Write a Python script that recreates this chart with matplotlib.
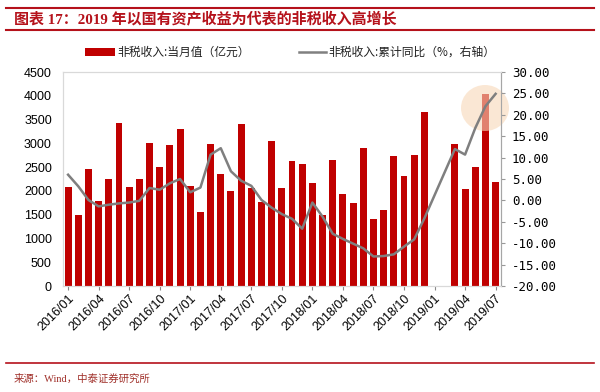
import matplotlib
matplotlib.use("Agg")
import matplotlib.pyplot as plt
import numpy as np
from matplotlib.lines import Line2D
from matplotlib.patches import Ellipse

months = [f"{y}/{m:02d}" for y in range(2016, 2020) for m in range(1, 13)][:43]

monthly = [2092, 1495, 2457, 1783, 2240, 3419, 2085, 2253, 3005, 2499, 2970, 3300,
           2113, 1565, 2984, 2359, 2001, 3398, 2057, 1776, 3054, 2071, 2635, 2570,
           2176, 1495, 2640, 1931, 1748, 2892, 1411, 1601, 2731, 2303, 2759, 3650,
           np.nan, np.nan, 2990, 2043, 2499, 4036, 2190]

yoy = [6.0, 3.3, 0.1, -1.4, -1.0, -0.7, -0.5, -0.1, 2.9, 2.5, 4.0, 5.0,
       1.9, 3.0, 10.7, 12.2, 6.8, 4.6, 3.4, 0.1, -1.7, -3.2, -4.3, -6.6,
       -0.5, -3.8, -7.8, -9.0, -10.1, -11.2, -13.1, -13.0, -12.6, -10.8, -9.1, -4.2,
       np.nan, np.nan, 12.0, 10.7, 16.9, 22.0, 24.9]

tick_labels = months[::3]

RED = "#c00000"
TITLE_RED = "#b5121b"

fig = plt.figure(figsize=(6.0, 3.92), dpi=100)
ax = fig.add_axes([0.105, 0.2704, 0.7295, 0.5459])
ax2 = ax.twinx()

x = np.arange(len(months))
ax.bar(x, monthly, width=0.68, color=RED, zorder=2)
ax.set_xlim(-0.5, len(months) - 0.5)
ax.set_ylim(0, 4500)
ax.set_yticks(np.arange(0, 4501, 500))
ax.set_xticks(x[::3])
ax.set_xticklabels(tick_labels, rotation=45, ha="right", rotation_mode="anchor",
                   fontsize=9, family="Liberation Sans")
for lab in ax.get_yticklabels():
    lab.set_family("Liberation Sans")
    lab.set_fontsize(9)
ax.tick_params(axis="y", length=0, pad=8)
ax.tick_params(axis="x", length=3, color="#888888", pad=2)

yy = np.array(yoy)
mask = ~np.isnan(yy)
ax2.plot(x[mask], yy[mask], color="#7f7f7f", lw=1.8, zorder=5)
ax2.set_ylim(-20, 30)
ax2.set_yticks(np.arange(-20, 31, 5))
ax2.set_yticklabels([f"{v:.2f}" for v in np.arange(-20, 31, 5)],
                    fontsize=9, family="DejaVu Sans Mono")
ax2.tick_params(axis="y", length=3, color="#999999", pad=5)

for a in (ax, ax2):
    for s in ("left", "top", "bottom"):
        a.spines[s].set_color("#d9d9d9")
    a.spines["right"].set_color("#a6a6a6")

# highlight circle
circ = Ellipse((485 / 600, 1 - 108 / 392), 48 / 600, 46 / 392, transform=fig.transFigure,
               facecolor="#f8d8b8", alpha=0.6, edgecolor="none", zorder=4, clip_on=False)
ax.add_patch(circ)

# title and rules
fig.add_artist(Line2D([0.01, 0.99], [1 - 8 / 392, 1 - 8 / 392], color=TITLE_RED, lw=1.5))
fig.add_artist(Line2D([0.01, 0.99], [1 - 29.5 / 392, 1 - 29.5 / 392], color=TITLE_RED, lw=1.5))
fig.text(14 / 600, 1 - 18.5 / 392, "图表 17：2019 年以国有资产收益为代表的非税收入高增长",
         fontsize=10.8, fontweight="bold", color=TITLE_RED, va="center", ha="left",
         family=["Liberation Serif", "Noto Sans CJK SC"])

fig.add_artist(Line2D([0.01, 0.99], [1 - 363 / 392, 1 - 363 / 392], color=TITLE_RED, lw=1.2))
fig.text(14 / 600, 1 - 379 / 392, "来源：Wind，中泰证券研究所", fontsize=7.5, color="#a0302a",
         va="center", ha="left", family=["Liberation Serif", "Noto Sans CJK SC"])

# legend
ly = 1 - 52 / 392
fig.patches.append(plt.Rectangle((85 / 600, ly - 4 / 392), 30 / 600, 8 / 392,
                                 transform=fig.transFigure, facecolor=RED, edgecolor="none"))
fig.text(117 / 600, ly, "非税收入:当月值（亿元）", fontsize=8.5, va="center", ha="left",
         family=["Noto Sans CJK SC", "DejaVu Sans"], color="#222222")
fig.add_artist(Line2D([299 / 600, 326 / 600], [ly, ly], color="#808080", lw=1.8))
fig.text(328 / 600, ly, "非税收入:累计同比（%，右轴）", fontsize=8.5, va="center", ha="left",
         family=["Noto Sans CJK SC", "DejaVu Sans"], color="#222222")

fig.savefig("out.png", dpi=100)
